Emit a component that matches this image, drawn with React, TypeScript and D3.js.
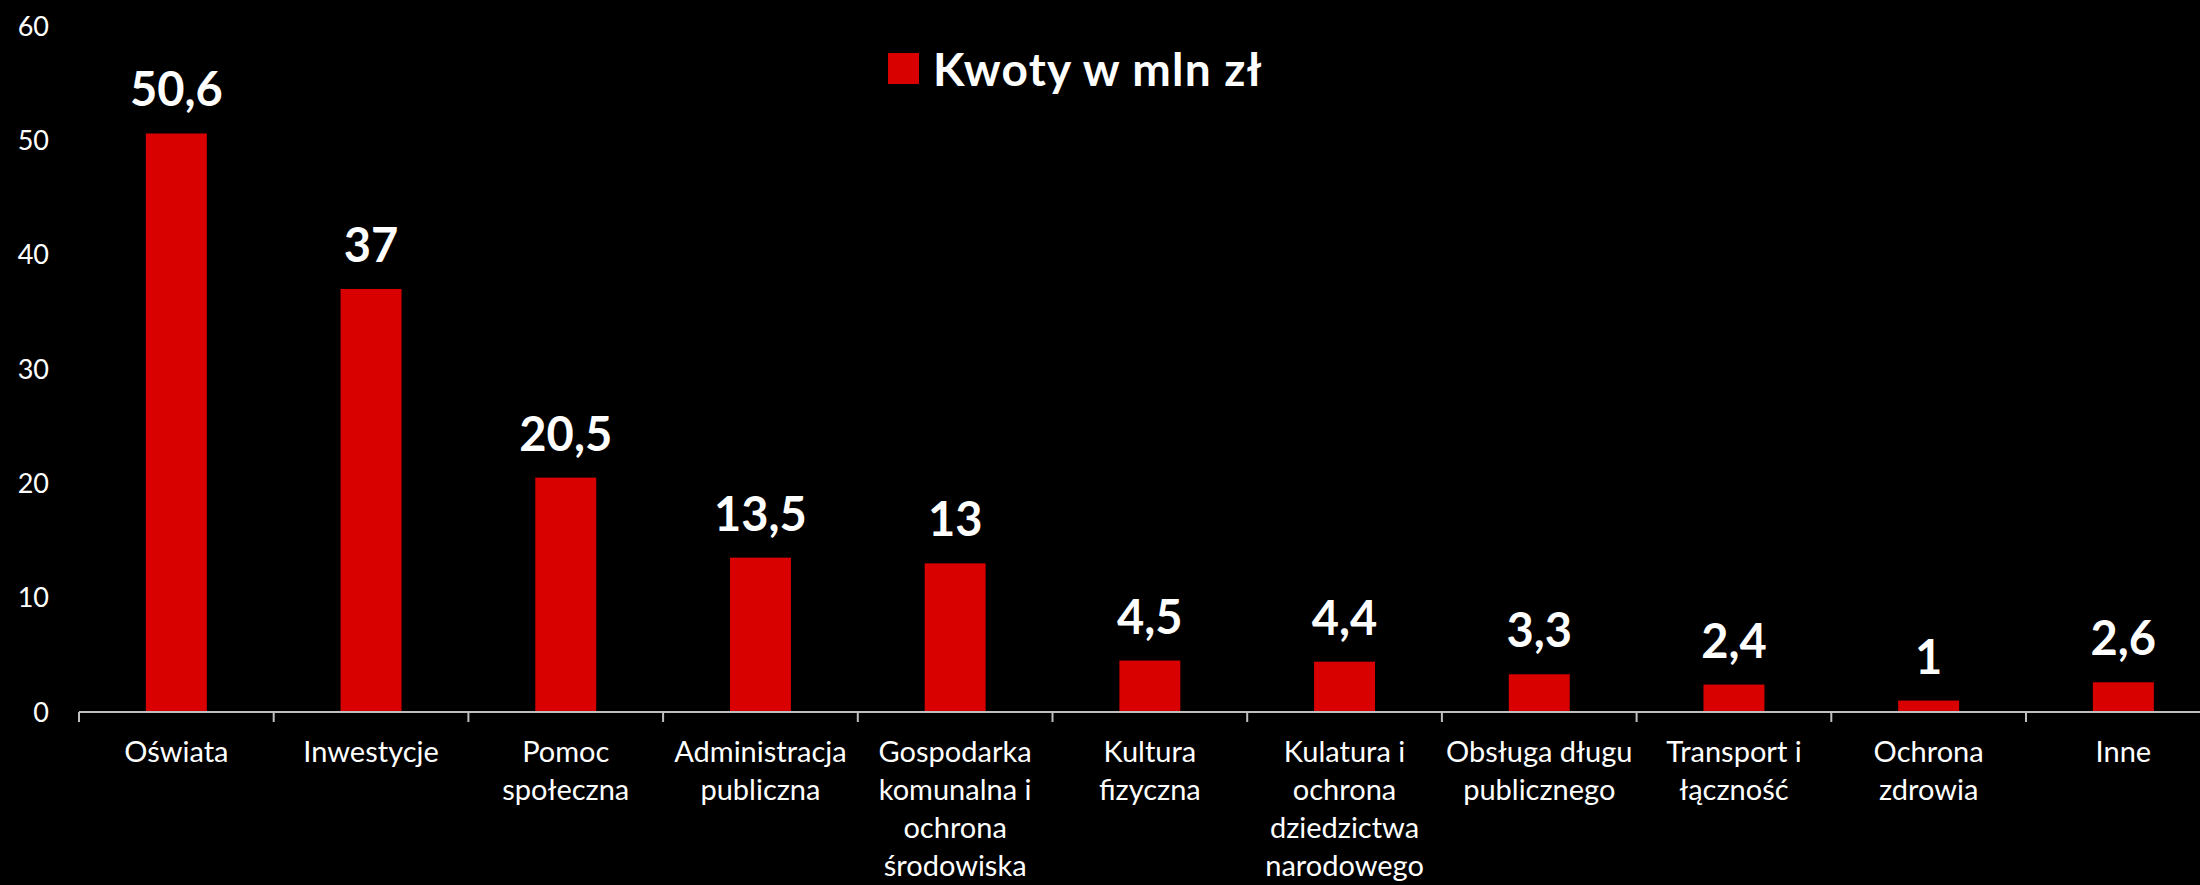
import React, { useEffect } from "react";
import * as d3 from "d3";

const categories: string[][] = [
  ["Oświata"],
  ["Inwestycje"],
  ["Pomoc", "społeczna"],
  ["Administracja", "publiczna"],
  ["Gospodarka", "komunalna i", "ochrona", "środowiska"],
  ["Kultura", "fizyczna"],
  ["Kulatura i", "ochrona", "dziedzictwa", "narodowego"],
  ["Obsługa długu", "publicznego"],
  ["Transport i", "łączność"],
  ["Ochrona", "zdrowia"],
  ["Inne"],
];
const values: number[] = [50.6, 37, 20.5, 13.5, 13, 4.5, 4.4, 3.3, 2.4, 1, 2.6];
const yTicks: number[] = [0, 10, 20, 30, 40, 50, 60];
const seriesName = "Kwoty w mln zł";

const W = 2200;
const H = 885;
const FONT = "Lato, 'Open Sans', sans-serif";
const RED = "#D90000";

export default function App() {
  useEffect(() => {
    document.body.style.margin = "0";
    document.body.style.background = "#000";
  }, []);

  const keys = categories.map((_, i) => String(i));
  const p = 0.687;
  const x = d3
    .scaleBand<string>()
    .domain(keys)
    .range([79, 79 + 11 * 194.7])
    .paddingInner(p)
    .paddingOuter(p / 2);
  const y = d3.scaleLinear().domain([0, 60]).range([712, 26]);
  const step = x.step();
  const fmt = (v: number) => String(v).replace(".", ",");

  return (
    <svg width={W} height={H} style={{ display: "block", background: "#000" }}>
      <rect x={0} y={0} width={W} height={H} fill="#000" />
      {yTicks.map((t) => (
        <text
          key={t}
          x={49}
          y={y(t)}
          dy="0.36em"
          textAnchor="end"
          fill="#fff"
          fontFamily={FONT}
          fontSize={27}
        >
          {t}
        </text>
      ))}
      {values.map((v, i) => (
        <rect
          key={i}
          x={x(String(i))}
          y={y(v)}
          width={x.bandwidth()}
          height={y(0) - y(v)}
          fill={RED}
        />
      ))}
      {values.map((v, i) => (
        <text
          key={"v" + i}
          x={(x(String(i)) as number) + x.bandwidth() / 2}
          y={y(v) - 27}
          textAnchor="middle"
          fill="#fff"
          fontFamily={FONT}
          fontWeight={700}
          fontSize={47}
        >
          {fmt(v)}
        </text>
      ))}
      <line x1={79} x2={W} y1={y(0)} y2={y(0)} stroke="#BFBFBF" strokeWidth={2} />
      {keys.map((k, i) => {
        const tx = 79 + i * step;
        return (
          <line key={"t" + k} x1={tx} x2={tx} y1={y(0)} y2={y(0) + 10} stroke="#BFBFBF" strokeWidth={2} />
        );
      })}
      {categories.map((lines, i) => (
        <text
          key={"c" + i}
          x={(x(String(i)) as number) + x.bandwidth() / 2}
          y={762}
          textAnchor="middle"
          fill="#fff"
          fontFamily={FONT}
          fontSize={29}
        >
          {lines.map((l, j) => (
            <tspan key={j} x={(x(String(i)) as number) + x.bandwidth() / 2} y={762 + j * 38}>
              {l}
            </tspan>
          ))}
        </text>
      ))}
      <rect x={888} y={53} width={31} height={31} fill={RED} />
      <text x={933} y={86} fill="#fff" fontFamily={FONT} fontWeight={700} fontSize={46} letterSpacing={1.2}>
        {seriesName}
      </text>
    </svg>
  );
}
